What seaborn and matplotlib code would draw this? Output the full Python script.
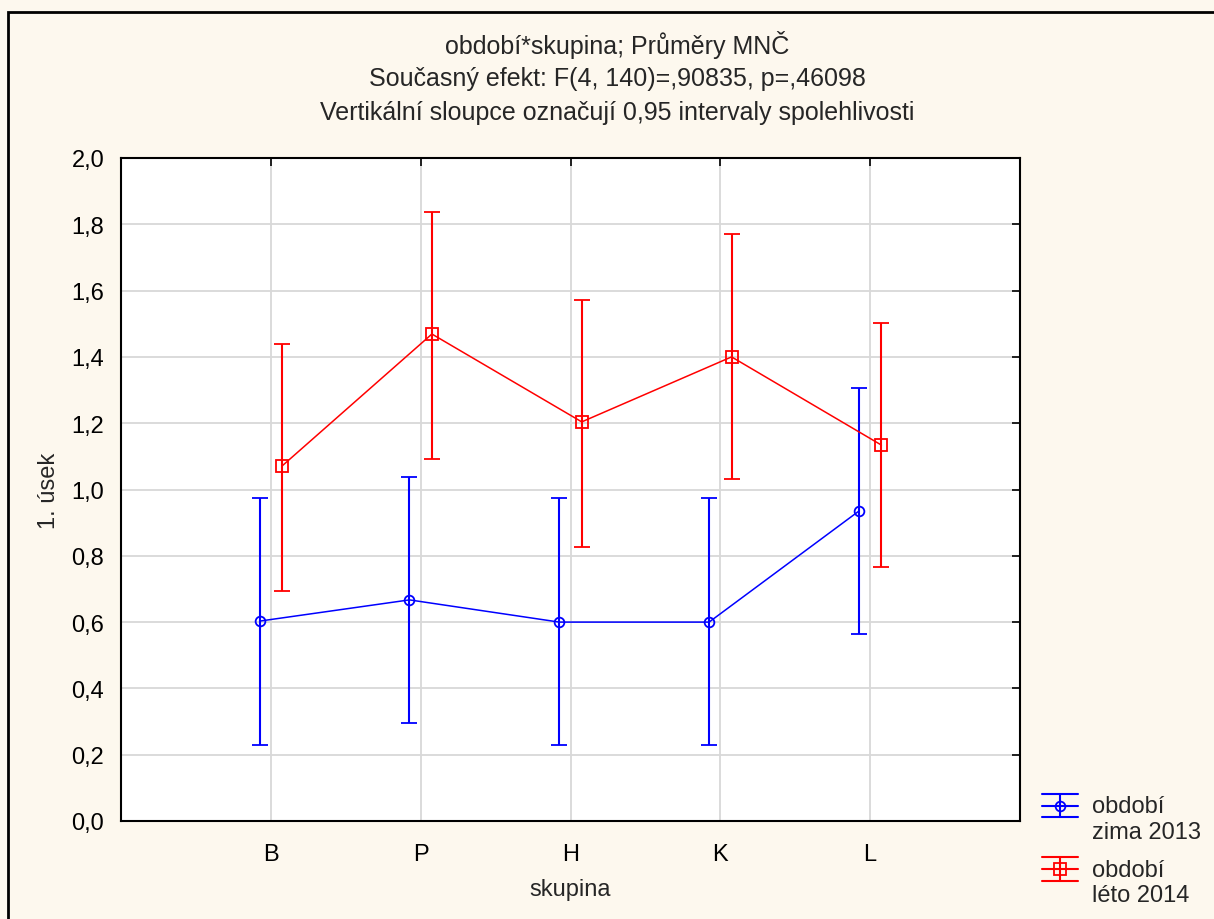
import numpy as np
import matplotlib
matplotlib.use("Agg")
import matplotlib.pyplot as plt
from matplotlib.lines import Line2D
from matplotlib.legend_handler import HandlerBase
import seaborn as sns
import pandas as pd

categories = ["B", "P", "H", "K", "L"]
zima_mean = [0.603, 0.667, 0.600, 0.600, 0.935]
zima_low = [0.229, 0.296, 0.229, 0.229, 0.564]
zima_high = [0.974, 1.038, 0.974, 0.974, 1.306]
leto_mean = [1.071, 1.469, 1.204, 1.400, 1.134]
leto_low = [0.694, 1.092, 0.827, 1.032, 0.766]
leto_high = [1.439, 1.837, 1.572, 1.771, 1.502]
series_labels = ["období\nzima 2013", "období\nléto 2014"]
yticks = [0.0, 0.2, 0.4, 0.6, 0.8, 1.0, 1.2, 1.4, 1.6, 1.8, 2.0]
title_lines = ["období*skupina; Průměry MNČ",
               "Současný efekt: F(4, 140)=,90835, p=,46098",
               "Vertikální sloupce označují 0,95 intervaly spolehlivosti"]

sns.set_style("white")
plt.rcParams['font.family'] = ['Liberation Sans', 'DejaVu Sans']

bg = "#FDF8EE"
fig = plt.figure(figsize=(12.14, 9.2), dpi=100, facecolor=bg)
ax = fig.add_axes([121/1214, 98/920, 899/1214, 663/920])
ax.set_facecolor("white")

x = np.arange(len(categories))
off = 0.075
series = [
    (series_labels[0], x - off, zima_mean, zima_low, zima_high, "#0000FF", "o", 7),
    (series_labels[1], x + off, leto_mean, leto_low, leto_high, "#FF0000", "s", 8),
]
for lab, xs, m, lo, hi, c, mk, ms in series:
    d = pd.DataFrame({"x": xs, "y": m})
    sns.lineplot(data=d, x="x", y="y", color=c, marker=mk, markersize=ms,
                 markerfacecolor="none", markeredgecolor=c, markeredgewidth=1.3,
                 linewidth=1.1, ax=ax, zorder=3)
    m = np.array(m)
    yerr = [m - np.array(lo), np.array(hi) - m]
    ax.errorbar(xs, m, yerr=yerr, fmt="none", ecolor=c, elinewidth=1.5,
                capsize=5.5, capthick=1.3, zorder=2)


class ErrHandler(HandlerBase):
    def __init__(self, color, marker, ms):
        super().__init__()
        self.color, self.marker, self.ms = color, marker, ms

    def create_artists(self, legend, orig_handle, xdescent, ydescent, width, height, fontsize, trans):
        c = self.color
        cy = height * 0.75 + 7
        dy = 8.5
        arts = []
        for yy in (cy - dy, cy, cy + dy):
            arts.append(Line2D([0, width], [yy, yy], color=c, lw=1.5, transform=trans))
        arts.append(Line2D([width / 2, width / 2], [cy - dy, cy + dy], color=c, lw=1.5, transform=trans))
        arts.append(Line2D([width / 2], [cy], marker=self.marker, ms=self.ms, mfc="none",
                           mec=c, mew=1.3, color=c, transform=trans))
        return arts


h1 = Line2D([], [], color="#0000FF")
h2 = Line2D([], [], color="#FF0000")
leg = fig.legend([h1, h2], series_labels, loc="upper left",
                 bbox_to_anchor=(1033/1214, 1 - 787/920), frameon=False, borderaxespad=0,
                 fontsize=17, handlelength=1.5, labelspacing=0.68, handletextpad=0.6,
                 handler_map={h1: ErrHandler("#0000FF", "o", 7),
                              h2: ErrHandler("#FF0000", "s", 8)})

ax.set_xlim(-1, 5)
ax.set_ylim(0, 2.0)
ax.set_xticks(x)
ax.set_xticklabels(categories)
ax.set_yticks(yticks)
ax.set_yticklabels([f"{v:.1f}".replace(".", ",") for v in yticks])
ax.grid(True, color="#D8D8D8", linewidth=1.3)
ax.set_axisbelow(True)
for sp in ax.spines.values():
    sp.set_visible(True)
    sp.set_color("black")
    sp.set_linewidth(1.5)
ax.tick_params(direction="in", length=6, width=1.2, top=True, right=True,
               labelsize=17, colors="black")
ax.tick_params(axis="y", pad=12)
ax.tick_params(axis="x", pad=16)
ax.set_xlabel("skupina", fontsize=17, labelpad=9)
ax.set_ylabel("1. úsek", fontsize=17, labelpad=8)

for i, t in enumerate(title_lines):
    fig.text(617/1214, 1 - (45 + 34*i)/920, t, ha="center", va="center", fontsize=18)

fig.patches.append(matplotlib.patches.Rectangle((8/1214, -0.05), 1.0, 1.05 - 13/920,
                   transform=fig.transFigure, fill=False, edgecolor="black",
                   linewidth=2, zorder=10))

fig.savefig("out.png", dpi=100, facecolor=bg)
